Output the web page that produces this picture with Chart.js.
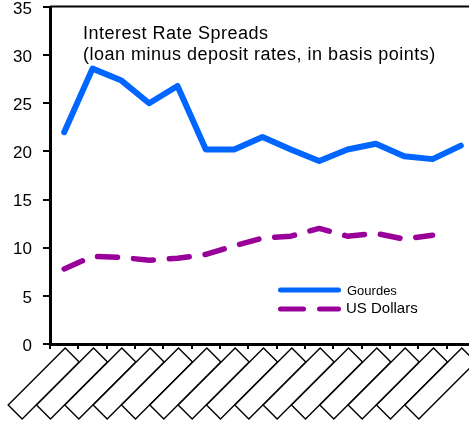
<!DOCTYPE html>
<html>
<head>
<meta charset="utf-8">
<script src="https://cdn.jsdelivr.net/npm/chart.js@4.4.1/dist/chart.umd.min.js"></script>
<style>
  html, body { margin: 0; padding: 0; background: #fff; overflow: hidden; }
  #wrap { width: 469px; height: 429px; overflow: hidden; }
</style>
</head>
<body>
<div id="wrap"><canvas id="spreadChart" width="490" height="429"></canvas></div>
<script>
// === Dati ===
const categories = ["1", "2", "3", "4", "5", "6", "7", "8", "9", "10", "11", "12", "13", "14", "15"];
const gourdes = [22.0, 28.6, 27.4, 25.0, 26.8, 20.2, 20.2, 21.5, 20.2, 19.0, 20.2, 20.8, 19.5, 19.2, 20.6];
const usDollars = [7.8, 9.1, 9.0, 8.7, 8.9, 9.3, 10.2, 11.0, 11.2, 12.0, 11.2, 11.5, 10.9, 11.3, null];
const yTicks = [0, 5, 10, 15, 20, 25, 30, 35];
const titleLines = ["Interest Rate Spreads", "(loan minus deposit rates, in basis points)"];

const FONT = "'Liberation Sans', Arial, sans-serif";

// Titolo, legenda, bordo superiore e caselle delle etichette
const decorPlugin = {
  id: "decor",
  afterDraw(chart) {
    const ctx = chart.ctx;
    const area = chart.chartArea;
    const x = chart.scales.x;
    ctx.save();

    // bordo superiore
    ctx.strokeStyle = "#000";
    ctx.lineWidth = 2;
    ctx.beginPath();
    ctx.moveTo(area.left, area.top - 0.5);
    ctx.lineTo(chart.width, area.top - 0.5);
    ctx.stroke();

    // caselle inclinate sotto l'asse x
    ctx.lineWidth = 1.4;
    categories.forEach((c, i) => {
      const px = x.getPixelForValue(i) + 1;
      const py = 348;
      ctx.beginPath();
      ctx.moveTo(px, py);
      ctx.lineTo(px + 14, py + 14);
      ctx.lineTo(px + 14 - 57, py + 14 + 57);
      ctx.lineTo(px - 57, py + 57);
      ctx.closePath();
      ctx.fillStyle = "#fff";
      ctx.fill();
      ctx.stroke();
    });

    // titolo
    ctx.fillStyle = "#000";
    ctx.font = "18px " + FONT;
    ctx.textAlign = "left";
    ctx.textBaseline = "alphabetic";
    ctx.letterSpacing = "0.5px";
    ctx.fillText(titleLines[0], 83, 39);
    ctx.fillText(titleLines[1], 83, 60);
    ctx.letterSpacing = "0px";

    // legenda
    const ds = chart.data.datasets;
    ctx.lineCap = "round";
    ctx.lineWidth = 5;
    ctx.strokeStyle = ds[0].borderColor;
    ctx.beginPath();
    ctx.moveTo(280.5, 290);
    ctx.lineTo(338.5, 290);
    ctx.stroke();

    ctx.strokeStyle = ds[1].borderColor;
    ctx.setLineDash([23, 16]);
    ctx.beginPath();
    ctx.moveTo(280.5, 309);
    ctx.lineTo(338.5, 309);
    ctx.stroke();
    ctx.setLineDash([]);

    ctx.textBaseline = "middle";
    ctx.font = "13px " + FONT;
    ctx.fillText(ds[0].label, 347, 291);
    ctx.font = "15px " + FONT;
    ctx.fillText(ds[1].label, 346, 309);

    ctx.restore();
  }
};

const ctx = document.getElementById("spreadChart").getContext("2d");
const chart = new Chart(ctx, {
  type: "line",
  data: {
    labels: categories,
    datasets: [
      {
        label: "Gourdes",
        data: gourdes,
        borderColor: "#0066ff",
        borderWidth: 6,
        borderCapStyle: "round",
        borderJoinStyle: "round",
        pointRadius: 0,
        tension: 0,
        fill: false
      },
      {
        label: "US Dollars",
        data: usDollars,
        borderColor: "#990099",
        borderWidth: 5.5,
        borderDash: [20, 16],
        borderCapStyle: "round",
        borderJoinStyle: "round",
        pointRadius: 0,
        tension: 0,
        fill: false,
        spanGaps: false
      }
    ]
  },
  options: {
    responsive: false,
    animation: false,
    devicePixelRatio: 1,
    layout: { padding: { top: 7, right: 15, left: 0, bottom: 0 } },
    plugins: {
      legend: { display: false },
      tooltip: { enabled: false }
    },
    scales: {
      x: {
        offset: true,
        grid: {
          offset: true,
          drawOnChartArea: false,
          drawTicks: true,
          tickLength: 5,
          color: "#000",
          lineWidth: 2
        },
        border: { display: true, color: "#000", width: 3 },
        ticks: { display: false },
        afterFit(scale) { scale.height = 85; }
      },
      y: {
        min: 0,
        max: 35,
        afterBuildTicks(scale) { scale.ticks = yTicks.map(v => ({ value: v })); },
        grid: {
          drawOnChartArea: false,
          drawTicks: true,
          tickLength: 7,
          color: "#000",
          lineWidth: 2
        },
        border: { display: true, color: "#000", width: 3 },
        ticks: {
          color: "#000",
          padding: 11,
          labelOffset: 2,
          font: { family: FONT, size: 17 }
        },
        afterFit(scale) {
          scale.width = 50;
          scale.paddingTop = 0;
          scale.paddingBottom = 0;
        }
      }
    }
  },
  plugins: [decorPlugin]
});
</script>
</body>
</html>
